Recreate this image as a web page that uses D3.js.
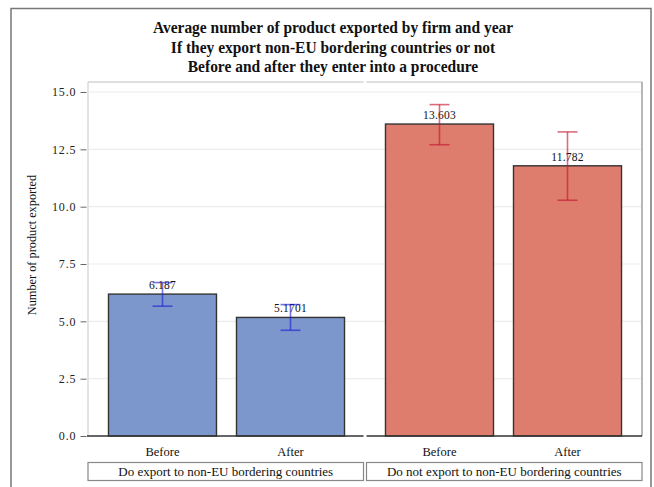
<!DOCTYPE html>
<html>
<head>
<meta charset="utf-8">
<script src="https://cdn.jsdelivr.net/npm/d3@7/dist/d3.min.js"></script>
<style>
  html, body { margin: 0; padding: 0; background: #fff; }
  svg text { font-family: "Liberation Serif", "DejaVu Serif", "Times New Roman", serif; }
</style>
</head>
<body>
<svg id="chart" width="654" height="487"></svg>
<script>
// Average number of products exported, by export status and period
const groups = ["Do export to non-EU bordering countries", "Do not export to non-EU bordering countries"];
const periods = ["Before", "After"];
const means = [[6.187, 5.1701], [13.603, 11.782]];
const ciLow = [[5.66, 4.61], [12.70, 10.28]];
const ciHigh = [[6.69, 5.73], [14.45, 13.26]];
const valueLabels = [["6.187", "5.1701"], ["13.603", "11.782"]];
const yTicks = [0, 2.5, 5, 7.5, 10, 12.5, 15];
const titleLines = [
  "Average number of product exported by firm and year",
  "If they export non-EU bordering countries or not",
  "Before and after they enter into a procedure"
];
const yLabel = "Number of product exported";

const barFill = ["#7b97cc", "#de7d6e"];
const ciColor = ["rgba(30,30,210,0.62)", "rgba(195,20,45,0.62)"];
const serif = "'Liberation Serif', 'DejaVu Serif', serif";

const svg = d3.select("#chart");

// outer frame
svg.append("path")
  .attr("d", "M11,492 V8.5 H651 V492")
  .attr("fill", "none").attr("stroke", "#777").attr("stroke-width", 1.5);

// title: tall, slightly condensed bold serif
svg.append("g")
  .attr("transform", "translate(333,0) scale(0.9,1)")
  .selectAll("text").data(titleLines).join("text")
  .attr("x", 0).attr("y", (d, i) => 33.5 + i * 19.2)
  .attr("text-anchor", "middle")
  .attr("font-family", serif)
  .attr("font-size", 17.2).attr("font-weight", "bold")
  .attr("fill", "#111")
  .text(d => d);

const plotTop = 82, plotBottom = 436, plotLeft = 88, plotRight = 642;

const y = d3.scaleLinear().domain([0, 15]).range([plotBottom, 92]);
const xGroup = d3.scaleBand().domain(groups).range([plotLeft, plotRight]).padding(0);
const xPeriod = d3.scaleBand().domain(periods).range([0, xGroup.bandwidth()])
  .paddingInner(0.15625).paddingOuter(0.16);

// grid lines
svg.append("g").selectAll("line").data(yTicks.filter(t => t > 0)).join("line")
  .attr("x1", plotLeft + 1).attr("x2", plotRight - 1)
  .attr("y1", d => y(d)).attr("y2", d => y(d))
  .attr("stroke", "#ececec").attr("stroke-width", 1.2);

// plot frame: top edge split between the two panels, outer sides only
groups.forEach((g, gi) => {
  const x0 = xGroup(g) + (gi === 0 ? 0 : 1.5);
  const x1 = xGroup(g) + xGroup.bandwidth() - (gi === 0 ? 1.5 : 0);
  svg.append("line")
    .attr("x1", x0).attr("x2", x1).attr("y1", plotTop).attr("y2", plotTop)
    .attr("stroke", "#c0c0c0").attr("stroke-width", 1.2);
});
svg.append("line")
  .attr("x1", plotLeft).attr("x2", plotLeft).attr("y1", plotTop).attr("y2", plotBottom)
  .attr("stroke", "#c8c8c8").attr("stroke-width", 1);
svg.append("line")
  .attr("x1", plotRight).attr("x2", plotRight).attr("y1", plotTop).attr("y2", plotBottom)
  .attr("stroke", "#888").attr("stroke-width", 1.2);

// y axis
const yAxis = d3.axisLeft(y).tickValues(yTicks).tickFormat(d3.format(".1f"))
  .tickSize(6).tickPadding(4);
const ya = svg.append("g").attr("transform", `translate(${plotLeft - 1.5},0)`).call(yAxis)
  .attr("font-family", serif).attr("font-size", 12);
ya.select(".domain").remove();
ya.selectAll(".tick line").attr("stroke", "#666");
ya.selectAll(".tick text").attr("fill", "#222").attr("letter-spacing", 0.9);

svg.append("text")
  .attr("transform", `translate(36,245) rotate(-90)`)
  .attr("text-anchor", "middle").attr("font-family", serif)
  .attr("font-size", 12.3).attr("fill", "#111")
  .text(yLabel);

// bars, error bars, value labels
groups.forEach((g, gi) => {
  const gx = xGroup(g);
  const panel = svg.append("g").attr("transform", `translate(${gx},0)`);
  periods.forEach((p, pi) => {
    const bx = xPeriod(p), bw = xPeriod.bandwidth();
    const cx = bx + bw / 2;
    panel.append("rect")
      .attr("x", bx).attr("y", y(means[gi][pi]))
      .attr("width", bw).attr("height", y(0) - y(means[gi][pi]))
      .attr("fill", barFill[gi]).attr("stroke", "#333").attr("stroke-width", 1.4);
    panel.append("text")
      .attr("x", cx).attr("y", y(means[gi][pi]) - 5)
      .attr("text-anchor", "middle").attr("font-family", serif)
      .attr("font-size", 11.5).attr("letter-spacing", 0.2).attr("fill", "#111")
      .text(valueLabels[gi][pi]);
    const eb = panel.append("g").attr("stroke", ciColor[gi]).attr("stroke-width", 1.6);
    eb.append("line").attr("x1", cx).attr("x2", cx)
      .attr("y1", y(ciLow[gi][pi])).attr("y2", y(ciHigh[gi][pi]));
    [ciLow[gi][pi], ciHigh[gi][pi]].forEach(v => {
      eb.append("line").attr("x1", cx - 10).attr("x2", cx + 10)
        .attr("y1", y(v)).attr("y2", y(v));
    });
    panel.append("text")
      .attr("x", cx).attr("y", 456)
      .attr("text-anchor", "middle").attr("font-family", serif)
      .attr("font-size", 12.5).attr("fill", "#111")
      .text(p);
  });
});

// baseline
groups.forEach((g, gi) => {
  const x0 = xGroup(g) + (gi === 0 ? -1 : 1.5);
  const x1 = xGroup(g) + xGroup.bandwidth() - (gi === 0 ? 1.5 : 0);
  svg.append("line")
    .attr("x1", x0).attr("x2", x1).attr("y1", plotBottom).attr("y2", plotBottom)
    .attr("stroke", "#333").attr("stroke-width", 1.5);
});

// group label boxes
groups.forEach((g, gi) => {
  const x0 = xGroup(g) + (gi === 0 ? 0 : 1.5);
  const w = xGroup.bandwidth() - 1.5;
  svg.append("rect")
    .attr("x", x0).attr("y", 462.5).attr("width", w).attr("height", 18)
    .attr("fill", "#fff").attr("stroke", "#888").attr("stroke-width", 1.2);
  svg.append("text")
    .attr("x", x0 + w / 2).attr("y", 476)
    .attr("text-anchor", "middle").attr("font-family", serif)
    .attr("font-size", 13).attr("fill", "#111")
    .text(g);
});
</script>
</body>
</html>
